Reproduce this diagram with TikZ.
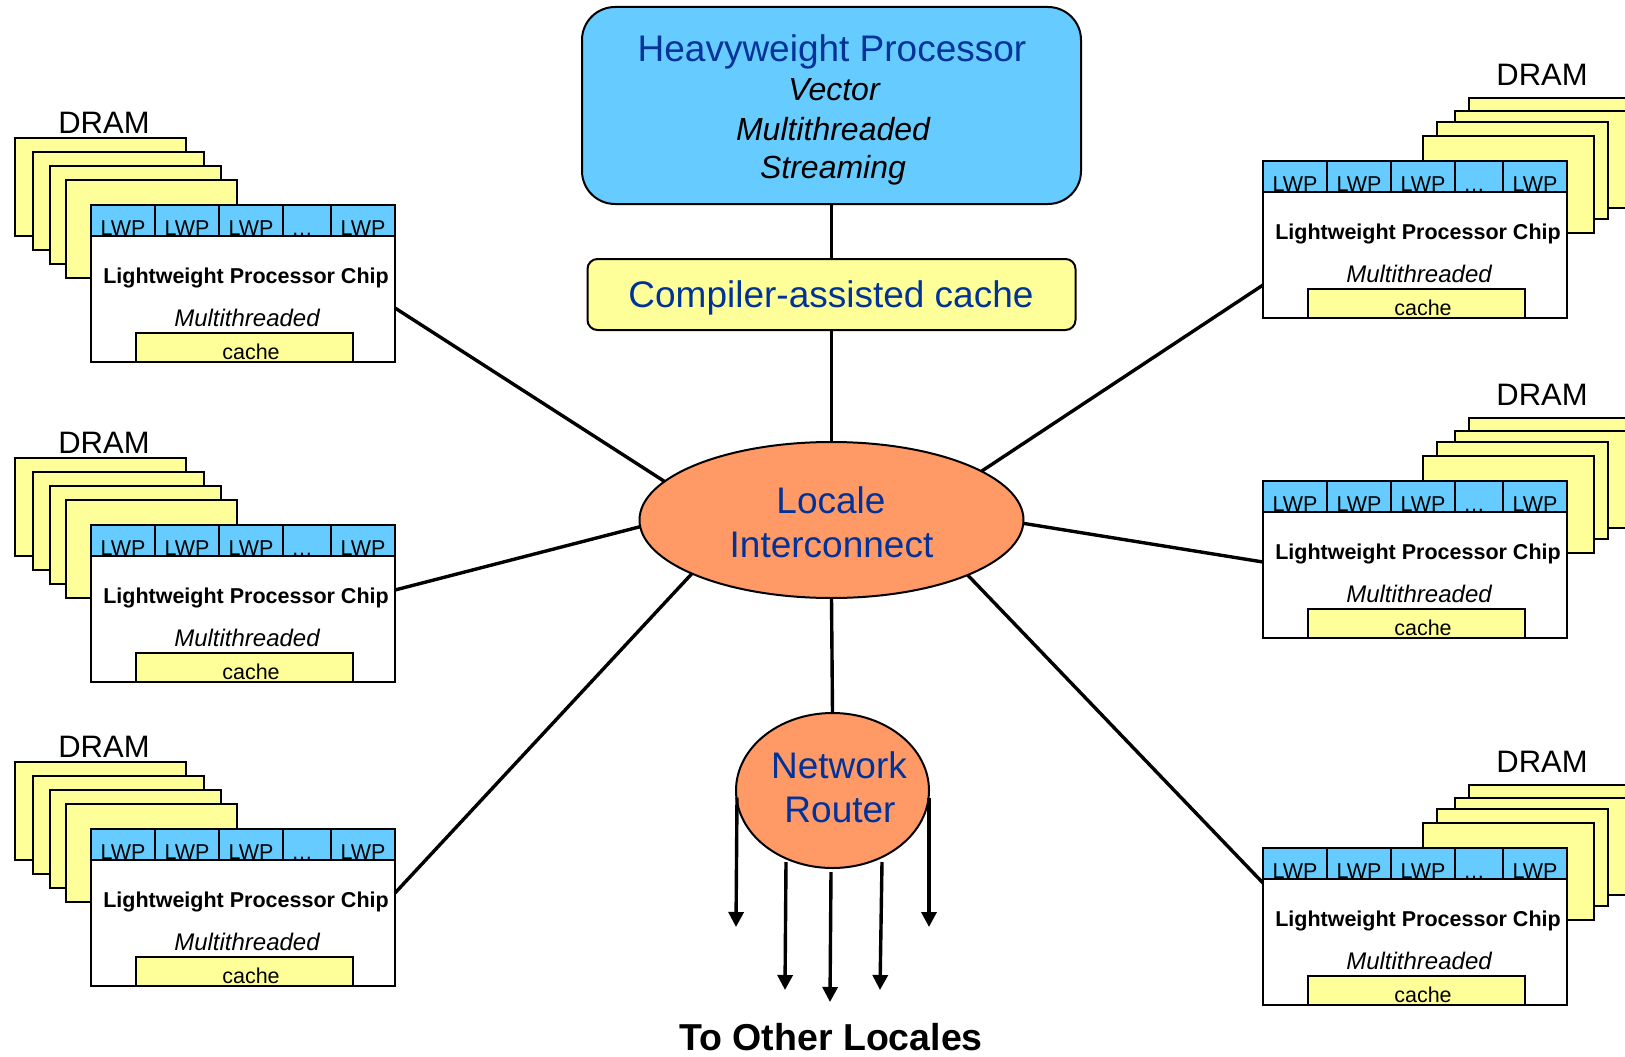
\documentclass[tikz,border=0pt]{standalone}
\usepackage{fontspec}
\setmainfont{Liberation Sans}
\usetikzlibrary{arrows.meta,shapes.geometric,calc}

\definecolor{hwblue}{HTML}{66CCFF}
\definecolor{memyellow}{HTML}{FFFF99}
\definecolor{netorange}{HTML}{FF9966}
\definecolor{labelblue}{HTML}{003399}

\tikzset{
  sheet/.style={draw=black, line width=2pt, fill=memyellow},
  chipbox/.style={draw=black, line width=2pt, fill=white, anchor=north west,
    minimum width=304pt, minimum height=157pt, inner sep=0pt, outer sep=0pt},
  lwpbar/.style={draw=black, line width=2pt, fill=hwblue},
  cellline/.style={draw=black, line width=2pt},
  lwptext/.style={anchor=base, inner sep=0pt, font=\fontsize{21.5}{25}\selectfont},
  chiptitle/.style={anchor=base, inner sep=0pt, font=\fontsize{21.5}{25}\selectfont\bfseries},
  chipsub/.style={anchor=base, inner sep=0pt, font=\fontsize{24}{29}\selectfont\itshape},
  cachebox/.style={draw=black, line width=2pt, fill=memyellow},
  cachetext/.style={anchor=base, inner sep=0pt, font=\fontsize{21.5}{25}\selectfont},
  dramtext/.style={anchor=base, inner sep=0pt, font=\fontsize{31}{37}\selectfont},
  bigblue/.style={anchor=base, inner sep=0pt, text=labelblue, font=\fontsize{37}{44}\selectfont},
  bigitalic/.style={anchor=base, inner sep=0pt, font=\fontsize{32}{38}\selectfont\itshape},
  wire/.style={draw=black, line width=3.4pt},
  outlink/.style={draw=black, line width=3.4pt, -{Triangle[width=15pt,length=15pt]}},
  netshape/.style={ellipse, draw=black, line width=2pt, fill=netorange, inner sep=0pt, outer sep=0pt},
}

% one lightweight processor chip, top-left corner at (#2,#3)
\newcommand\lwpchip[3]{%
  \begin{scope}[shift={(#2,#3)}]
    \node[chipbox] (#1) at (0,0) {};
    \draw[lwpbar] (0,0) rectangle (304,31);
    \foreach \d in {64,128,192,240} \draw[cellline] (\d,0) -- (\d,31);
    \foreach \cx/\t in {32/LWP,96/LWP,160/LWP,211/…,272/LWP}
      \node[lwptext] (#1-c\cx) at (\cx,30) {\t};
    \node[chiptitle] (#1-title) at (155,78) {Lightweight Processor Chip};
    \node[chipsub] (#1-sub) at (156,121) {Multithreaded};
    \draw[cachebox] (45,128) rectangle (262,157);
    \node[cachetext] (#1-cache) at (160,154) {cache};
    \draw[line width=2pt] (#1.north west) rectangle (#1.south east);
  \end{scope}}

% stack of DRAM sheets behind a chip on the left side
\newcommand\dramleft[3]{%
  \begin{scope}[shift={(#2,#3)}]
    \foreach \dx/\dy in {-76/-67,-58/-53,-41/-39,-25/-25}
      \draw[sheet] (\dx,\dy) rectangle ++(171,98);
    \node[dramtext] (#1) at (13,-72) {DRAM};
  \end{scope}}

% stack of DRAM sheets behind a chip on the right side
\newcommand\dramright[3]{%
  \begin{scope}[shift={(#2,#3)}]
    \foreach \dx/\dy in {206/-63,192/-50,174/-39,160/-25}
      \draw[sheet] (\dx,\dy) rectangle ++(171,97);
    \node[dramtext] (#1) at (279,-76) {DRAM};
  \end{scope}}

\begin{document}
\begin{tikzpicture}[x=1pt, y=-1pt]
  \useasboundingbox (0,0) rectangle (1625,1057);
  \clip (0,0) rectangle (1625,1057);

  % memory stacks and lightweight chips
  \dramleft{dL1}{91}{205}    \lwpchip{L1}{91}{205}
  \dramleft{dL2}{91}{525}    \lwpchip{L2}{91}{525}
  \dramleft{dL3}{91}{829}    \lwpchip{L3}{91}{829}
  \dramright{dR1}{1263}{161} \lwpchip{R1}{1263}{161}
  \dramright{dR2}{1263}{481} \lwpchip{R2}{1263}{481}
  \dramright{dR3}{1263}{848} \lwpchip{R3}{1263}{848}

  % heavyweight processor
  \node[draw=black, line width=2pt, fill=hwblue, rounded corners=33pt,
        minimum width=499pt, minimum height=197pt, inner sep=0pt] (hw) at (831.5,105.5) {};
  \node[bigblue] (hw-t1) at (832,62) {Heavyweight Processor};
  \node[bigitalic] (hw-t2) at (834,100) {Vector};
  \node[bigitalic] (hw-t3) at (833,140) {Multithreaded};
  \node[bigitalic] (hw-t4) at (833,178) {Streaming};

  % compiler-assisted cache
  \node[draw=black, line width=2pt, fill=memyellow, rounded corners=10pt,
        minimum width=488pt, minimum height=71pt, inner sep=0pt] (cac) at (831.5,294.5) {};
  \node[bigblue] (cac-t) at (831,307) {Compiler-assisted cache};

  % locale interconnect and network router
  \node[netshape, minimum width=384pt, minimum height=156pt] (li) at (831.5,520) {};
  \node[bigblue] (li-t1) at (831,513) {Locale};
  \node[bigblue] (li-t2) at (831.5,557) {Interconnect};

  \node[netshape, minimum width=193pt, minimum height=155pt] (nr) at (832.5,790.5) {};
  \node[bigblue] (nr-t1) at (839,778) {Network};
  \node[bigblue] (nr-t2) at (840,822) {Router};

  % vertical spine
  \draw[wire] (hw.south) -- (cac.north);
  \draw[wire] (cac.south) -- (li.north);
  \draw[wire] (li.south) -- (nr.north);

  % links from the interconnect to the chips
  \draw[wire] (li.167)   -- ($(L1.north east)+(0,103)$);
  \draw[wire] (li.182.9) -- ($(L2.north east)+(0,65)$);
  \draw[wire] (li.201.4) -- ($(L3.north east)+(0,64)$);
  \draw[wire] (li.18.8)  -- ($(R1.north west)+(0,124)$);
  \draw[wire] (li.-1.3)  -- ($(R2.north west)+(0,81)$);
  \draw[wire] (li.-22.3) -- ($(R3.north west)+(0,35)$);

  % links out of the router
  \coordinate (o1) at (736,927);
  \coordinate (o2) at (785,990);
  \coordinate (o3) at (830,1002);
  \coordinate (o4) at (880,990);
  \coordinate (o5) at (929,927);
  \draw[outlink] ($(nr.west)+(1,7)$) -- (o1);
  \draw[outlink] ($(nr.south)+(-46.5,-6)$) -- (o2);
  \draw[outlink] ($(nr.south)+(-1.5,4)$) -- (o3);
  \draw[outlink] ($(nr.south)+(49.5,-6)$) -- (o4);
  \draw[outlink] ($(nr.east)+(0,7)$) -- (o5);

  \node[anchor=base, inner sep=0pt, font=\fontsize{37.5}{45}\selectfont\bfseries] (dest) at (831,1050) {To Other Locales};
\end{tikzpicture}
\end{document}
